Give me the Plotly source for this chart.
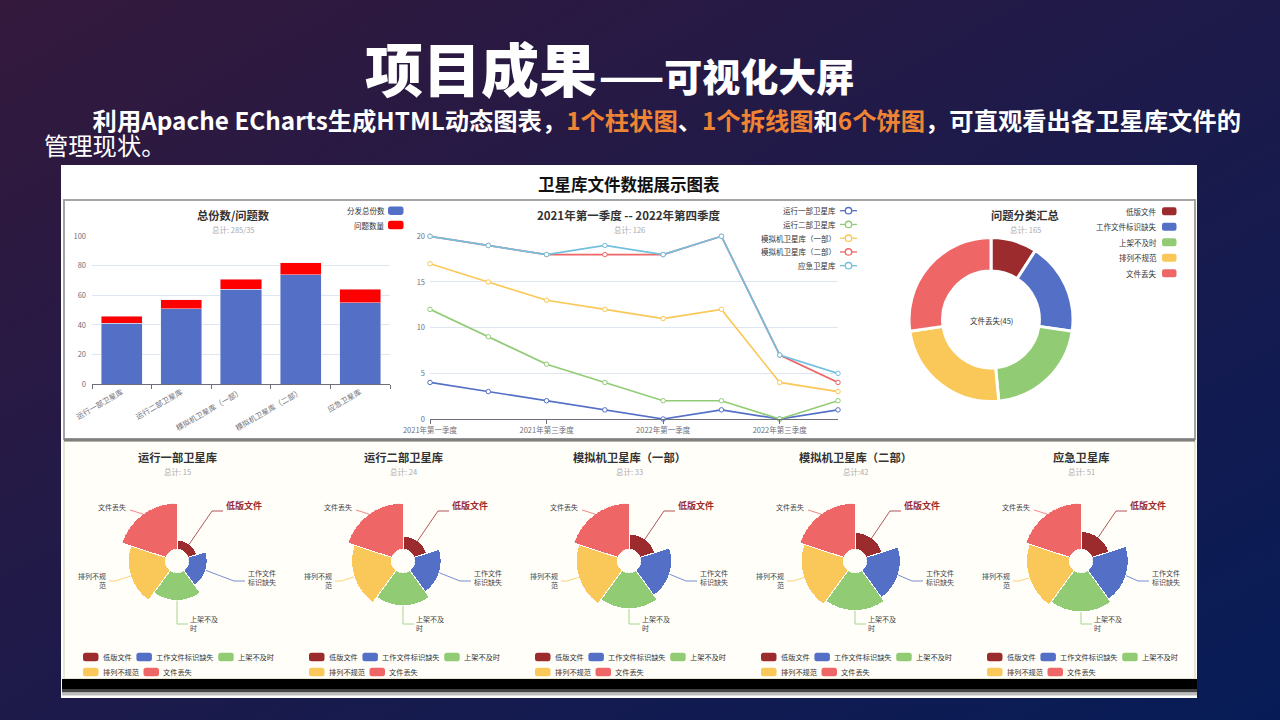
import math
import base64
import plotly.graph_objects as go

W, H = 1280, 720
FONT = "Noto Sans CJK SC, Noto Sans, sans-serif"

# ---------------- data ----------------
bar_categories = ["运行一部卫星库", "运行二部卫星库", "模拟机卫星库（一部）", "模拟机卫星库（二部）", "应急卫星库"]
bar_distributed = [41, 51, 64, 74, 55]
bar_problems = [5, 6, 7, 8, 9]
bar_legend = ["分发总份数", "问题数量"]

quarters = ["2021年第一季度", "2021年第二季度", "2021年第三季度", "2021年第四季度",
            "2022年第一季度", "2022年第二季度", "2022年第三季度", "2022年第四季度"]
line_names = ["运行一部卫星库", "运行二部卫星库", "模拟机卫星库（一部）", "模拟机卫星库（二部）", "应急卫星库"]
line_yx1 = [4, 3, 2, 1, 0, 1, 0, 1]
line_yx2 = [12, 9, 6, 4, 2, 2, 0, 2]
line_mn1 = [17, 15, 13, 12, 11, 12, 4, 3]
line_mn2 = [20, 19, 18, 18, 18, 20, 7, 4]
line_yj = [20, 19, 18, 19, 18, 20, 7, 5]

issue_types = ["低版文件", "工作文件标识缺失", "上架不及时", "排列不规范", "文件丢失"]
issue_totals = [15, 30, 35, 40, 45]

lib_names = ["运行一部卫星库", "运行二部卫星库", "模拟机卫星库（一部）", "模拟机卫星库（二部）", "应急卫星库"]
lib_subtitles = ["总计: 15", "总计: 24", "总计: 33", "总计:42", "总计: 51"]
lib_yx1 = [1, 2, 3, 4, 5]
lib_yx2 = [2, 4, 5, 6, 7]
lib_mn1 = [3, 6, 7, 8, 9]
lib_mn2 = [4, 8, 9, 10, 11]
lib_yj = [5, 10, 11, 12, 13]
lib_values = [lib_yx1, lib_yx2, lib_mn1, lib_mn2, lib_yj]
pie_labels = ["低版文件", "工作文件<br>标识缺失", "上架不及<br>时", "排列不规<br>范", "文件丢失"]

ISSUE_COLORS = ["#9c2b2e", "#5470c6", "#91cc75", "#fac858", "#ee6666"]
LINE_COLORS = ["#5470c6", "#91cc75", "#fac858", "#ee6666", "#73c0de"]
AXIS_GREY = "#6e7079"

# ---------------- helpers ----------------
annotations, shapes = [], []


def fx(x):
    return x / W


def fy(y):
    return 1 - y / H


def text(x, y, s, size=7.5, color=AXIS_GREY, anchor="center", weight=None, yanchor="middle", align="left"):
    f = dict(family=FONT, size=size, color=color)
    if weight:
        f["weight"] = weight
    annotations.append(dict(x=fx(x), y=fy(y), xref="paper", yref="paper", text=s, showarrow=False,
                            xanchor=anchor, yanchor=yanchor, font=f, borderpad=0, align=align))


def rect(x0, y0, x1, y1, fill=None, line=None, lw=0, layer="below"):
    shapes.append(dict(type="rect", xref="paper", yref="paper", x0=fx(x0), x1=fx(x1), y0=fy(y1), y1=fy(y0),
                       fillcolor=fill, line=dict(color=line or "rgba(0,0,0,0)", width=lw), layer=layer))


def P(x, y):
    return f"{fx(x):.6f},{fy(y):.6f}"


def rrect(x0, y0, x1, y1, r, fill):
    path = (f"M{P(x0 + r, y0)} L{P(x1 - r, y0)} Q{P(x1, y0)} {P(x1, y0 + r)} L{P(x1, y1 - r)} "
            f"Q{P(x1, y1)} {P(x1 - r, y1)} L{P(x0 + r, y1)} Q{P(x0, y1)} {P(x0, y1 - r)} "
            f"L{P(x0, y0 + r)} Q{P(x0, y0)} {P(x0 + r, y0)} Z")
    shapes.append(dict(type="path", path=path, xref="paper", yref="paper", fillcolor=fill,
                       line=dict(width=0), layer="above"))


def polyline(pts, color, width=0.8):
    path = "M" + " L".join(P(x, y) for x, y in pts)
    shapes.append(dict(type="path", path=path, xref="paper", yref="paper",
                       line=dict(color=color, width=width), layer="above"))


def circle(cx, cy, r, fill, line, lw=1):
    shapes.append(dict(type="circle", xref="paper", yref="paper", x0=fx(cx - r), x1=fx(cx + r),
                       y0=fy(cy + r), y1=fy(cy - r), fillcolor=fill, line=dict(color=line, width=lw),
                       layer="above"))


# ---------------- background & panels ----------------
bg_svg = ("<svg xmlns='http://www.w3.org/2000/svg' width='1280' height='720' preserveAspectRatio='none'>"
          "<defs><linearGradient id='g' x1='0' y1='0' x2='1' y2='1'>"
          "<stop offset='0' stop-color='#34193c'/><stop offset='0.5' stop-color='#1d1a4a'/>"
          "<stop offset='1' stop-color='#071c57'/></linearGradient></defs>"
          "<rect width='1280' height='720' fill='url(#g)'/></svg>")
bg_src = "data:image/svg+xml;base64," + base64.b64encode(bg_svg.encode()).decode()

rect(61, 165, 1197, 698, fill="white")
rect(64, 200, 1195, 439, fill="white", line="#a4a4a4", lw=2)
rect(64, 441, 1195, 679, fill="#fffef9", line="#e4e0c4", lw=1.5)
rect(64, 438.5, 1195, 441.5, fill="#808080")
rect(62, 679, 1197, 689, fill="#000000")
rect(62, 689, 1197, 692.5, fill="#444444")
rect(62, 692.5, 1197, 695.5, fill="#bdbdbd")

# ---------------- slide headings ----------------
text(598, 67, "项目成果", size=58, color="white", anchor="right", weight=900)
text(598, 75, "——可视化大屏", size=38, color="white", anchor="left", weight=900)
OR = "#ee8434"
FS = "font-size:24.3px"
intro = (f"<span style='{FS}'>　　<b>利用Apache ECharts生成HTML动态图表，"
         f"<span style='color:{OR}'>1个柱状图</span>、"
         f"<span style='color:{OR}'>1个拆线图</span>和"
         f"<span style='color:{OR}'>6个饼图</span>，可直观看出各卫星库文件的</b></span>"
         f"<br><span style='{FS}'>管理现状。</span>")
text(43, 132, intro, size=19.3, color="white", anchor="left", align="left")
text(629, 184, "卫星库文件数据展示图表", size=16.5, color="#111111", weight=700)

# ---------------- bar chart ----------------
traces = []
traces.append(go.Bar(x=bar_categories, y=bar_distributed, name=bar_legend[0], marker_color="#5470c6",
                     xaxis="x", yaxis="y"))
traces.append(go.Bar(x=bar_categories, y=bar_problems, name=bar_legend[1], marker_color="#ff0000",
                     xaxis="x", yaxis="y"))
text(233, 215, "总份数/问题数", size=11.3, color="#333333", weight=700)
text(233, 229.5, "总计: 285/35", size=7.5, color="#aaaaaa")
for i, (lab, col) in enumerate(zip(bar_legend, ["#5470c6", "#ff0000"])):
    yy = 210.7 + 14.3 * i
    text(385.5, yy, lab, size=7.5, color="#333333", anchor="right")
    rrect(388, yy - 4.3, 403.5, yy + 4.3, 2.5, col)

# ---------------- line chart ----------------
for name, vals, col in zip(line_names, [line_yx1, line_yx2, line_mn1, line_mn2, line_yj], LINE_COLORS):
    traces.append(go.Scatter(x=quarters, y=vals, name=name, mode="lines+markers", cliponaxis=False,
                             line=dict(color=col, width=1.7),
                             marker=dict(symbol="circle", size=4.5, color="white", line=dict(color=col, width=1)),
                             xaxis="x2", yaxis="y2"))
text(629, 215, "2021年第一季度 -- 2022年第四季度", size=11.5, color="#333333", weight=700)
text(629, 229.5, "总计: 126", size=7.5, color="#aaaaaa")
for i, (name, col) in enumerate(zip(line_names, LINE_COLORS)):
    yy = 210.7 + 13.75 * i
    text(836.5, yy, name, size=7.5, color="#333333", anchor="right")
    polyline([(840, yy), (857, yy)], col, width=1.3)
    circle(848.5, yy, 3.2, "white", col, lw=1.3)

# ---------------- donut ----------------
traces.append(go.Pie(labels=issue_types, values=issue_totals, hole=0.59, sort=False, direction="clockwise",
                     rotation=0, textinfo="none", hoverinfo="label+value+percent",
                     marker=dict(colors=ISSUE_COLORS, line=dict(color="white", width=3)),
                     domain=dict(x=[fx(909), fx(1073)], y=[fy(401.5), fy(237.5)])))
text(1025, 215, "问题分类汇总", size=11.3, color="#333333", weight=700)
text(1025, 229.5, "总计: 165", size=7.5, color="#aaaaaa")
text(991, 320, "文件丢失(45)", size=7.5, color="#333333")
for i, (lab, col) in enumerate(zip(issue_types, ISSUE_COLORS)):
    yy = 211.3 + 15.5 * i
    text(1158, yy, lab, size=7.5, color="#333333", anchor="right")
    rrect(1162, yy - 4, 1176.5, yy + 4, 2.2, col)

# ---------------- rose pies ----------------
R_OUT, HOLE = 58.0, 0.2
R_IN = R_OUT * HOLE
thetas = [36 + 72 * i for i in range(5)]
polars = {}
label_geo = [  # (elbow, end, text anchor x, text y, anchor)
    ((35, -50), (46, -50), 48, -55, "left"),
    ((57, 20), (68, 20), 70, 16.5, "left"),
    ((0, 63), (11, 63), 12, 62, "left"),
    ((-62, 20), (-68, 20), -70, 19.5, "right"),
    (None, (-47, -51), -50, -54, "right"),
]
for k, (lname, sub, vals) in enumerate(zip(lib_names, lib_subtitles, lib_values)):
    cx, cy = 177 + 226 * k, 561
    pname = "polar" if k == 0 else f"polar{k + 1}"
    vmax = max(vals)
    polars[pname] = dict(domain=dict(x=[fx(cx - R_OUT), fx(cx + R_OUT)], y=[fy(cy + R_OUT), fy(cy - R_OUT)]),
                         hole=HOLE, bgcolor="rgba(0,0,0,0)",
                         radialaxis=dict(visible=False, range=[0, vmax]),
                         angularaxis=dict(visible=False, rotation=90, direction="clockwise"))
    traces.append(go.Barpolar(r=vals, theta=thetas, width=[72] * 5, subplot=pname, text=issue_types,
                              marker=dict(color=ISSUE_COLORS, line=dict(color="white", width=1)),
                              hoverinfo="text+r"))
    text(cx, 457, lname, size=11.3, color="#333333", weight=700)
    text(cx, 471, sub, size=7.5, color="#aaaaaa")
    # labels with leader lines
    for i, v in enumerate(vals):
        elbow, end, tx, ty, anc = label_geo[i]
        rr = R_IN + (R_OUT - R_IN) * v / vmax
        a = math.radians(thetas[i])
        start = (cx + rr * math.sin(a), cy - rr * math.cos(a))
        pts = [start] + ([(cx + elbow[0], cy + elbow[1])] if elbow else []) + [(cx + end[0], cy + end[1])]
        polyline(pts, ISSUE_COLORS[i], width=0.8)
        if i == 0:
            text(cx + tx, cy + ty, pie_labels[i], size=9, color=ISSUE_COLORS[0], anchor=anc, weight=700)
        else:
            text(cx + tx, cy + ty, pie_labels[i], size=7, color="#444444", anchor=anc, align=anc)
    # legend
    cw = 7.1
    rows = [[0, 1, 2], [3, 4]]
    for r_i, row in enumerate(rows):
        yy = 657 + 15 * r_i
        xx = cx - 94
        for i in row:
            rrect(xx, yy - 4.2, xx + 15.5, yy + 4.2, 2.5, ISSUE_COLORS[i])
            text(xx + 18.5, yy, issue_types[i], size=7.2, color="#333333", anchor="left")
            xx += 18.5 + cw * len(issue_types[i]) + 6.5

fig = go.Figure(traces)

tickfont = dict(family=FONT, size=7.5, color=AXIS_GREY)
fig.update_layout(
    width=W, height=H, margin=dict(l=0, r=0, t=0, b=0, pad=0), autosize=False,
    paper_bgcolor="#1d1a4a", plot_bgcolor="white", showlegend=False,
    font=dict(family=FONT),
    barmode="stack", bargap=0.31,
    images=[dict(source=bg_src, xref="paper", yref="paper", x=0, y=1, sizex=1, sizey=1,
                 sizing="stretch", layer="below", xanchor="left", yanchor="top")],
    xaxis=dict(domain=[fx(92), fx(390)], anchor="y", showline=True, linecolor=AXIS_GREY, linewidth=1,
               ticks="outside", tickson="boundaries", ticklen=4, tickcolor=AXIS_GREY, tickangle=-30,
               tickfont=tickfont, showgrid=False, automargin=False),
    yaxis=dict(domain=[fy(384), fy(236.3)], anchor="x", range=[0, 100], dtick=20, showline=False,
               gridcolor="#e0e6f1", zeroline=False, tickfont=tickfont, ticklabelstandoff=5, automargin=False),
    xaxis2=dict(domain=[fx(430), fx(838)], anchor="y2", type="category", range=[0, 7],
                showline=True, linecolor=AXIS_GREY, linewidth=1, ticks="outside", ticklen=4,
                tickcolor=AXIS_GREY, tickvals=[quarters[0], quarters[2], quarters[4], quarters[6]],
                tickfont=tickfont, showgrid=False, tickangle=0, automargin=False),
    yaxis2=dict(domain=[fy(419), fy(236.3)], anchor="x2", range=[0, 20], dtick=5, showline=False,
                gridcolor="#e0e6f1", zeroline=False, tickfont=tickfont, ticklabelstandoff=4, automargin=False),
    annotations=annotations, shapes=shapes,
    **polars,
)

fig.write_html("out.html", config={"displayModeBar": False},
               post_script="document.body.style.margin='0';")
